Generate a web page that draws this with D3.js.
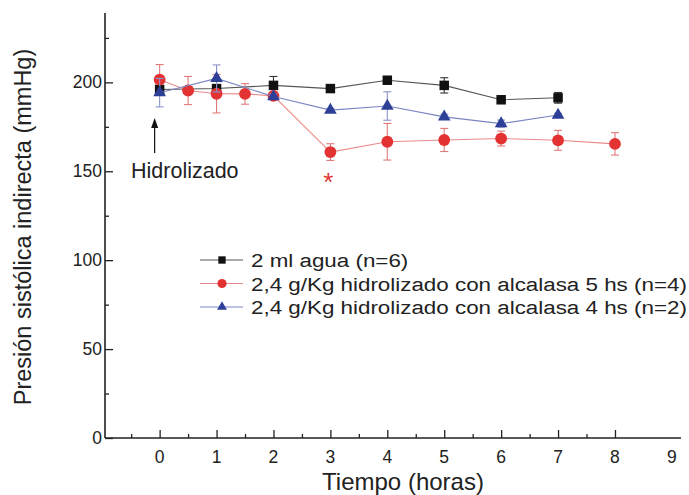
<html>
<script src='https://d3js.org/d3.v7.min.js'></script>
<style>
body {margin:0; background:#fff;}
text {font-family: "Liberation Sans", Arial, sans-serif; fill:#222;}
</style>
<body onload='init()'>
<svg width=689 height=495></svg>
<script>
// data
var aguaX = [0, 1, 2, 3, 4, 5, 6, 7];
var aguaY = [196, 196.5, 198.3, 196.5, 201.2, 198.3, 190.2, 191.3];
var aguaE = [2, 2, 5, 1.5, 2, 4.3, 2, 3];

var alc5X = [0, 0.5, 1, 1.5, 2, 3, 4, 5, 6, 7, 8];
var alc5Y = [201.5, 195.4, 193.6, 193.5, 192.4, 160.8, 166.6, 167.6, 168.4, 167.4, 165.4];
var alc5E = [8.5, 7.9, 10.8, 5.8, 2, 4.7, 10.3, 6.5, 4.2, 5.6, 6.3];

var alc4X = [0, 1, 2, 3, 4, 5, 6, 7];
var alc4Y = [194.2, 202.2, 192, 184.4, 186.7, 180.6, 176.8, 181.6];
var alc4E = [8, 7.6, 1.5, 1, 8, 1.5, 2, 1];

var xTicks = [0, 1, 2, 3, 4, 5, 6, 7, 8];
var xLabels = [0, 1, 2, 3, 4, 5, 6, 7, 8, 9];
var yTicks = [0, 50, 100, 150, 200];
var legendLabels = ["2 ml agua (n=6)", "2,4 g/Kg hidrolizado con alcalasa 5 hs (n=4)", "2,4 g/Kg hidrolizado con alcalasa 4 hs (n=2)"];

function init() {
	var svg = d3.select("svg");
	var x = d3.scaleLinear().domain([-0.96, 9.16]).range([105, 681]);
	var y = d3.scaleLinear().domain([0, 239]).range([438, 13]);

	// axes (ticks point inward)
	svg.append("g").attr("transform", "translate(0,438)")
		.call(d3.axisTop(x).tickValues(xTicks).tickSize(8).tickFormat(""))
		.call(function(g){ g.select(".domain").remove(); g.selectAll("line").attr("stroke", "#222").attr("stroke-width", 1.3); });
	svg.append("g").attr("transform", "translate(0,438)")
		.call(d3.axisTop(x).tickValues(d3.range(-0.5, 8, 1)).tickSize(4).tickFormat(""))
		.call(function(g){ g.select(".domain").remove(); g.selectAll("line").attr("stroke", "#222").attr("stroke-width", 1.3); });
	svg.append("line").attr("x1", 105).attr("x2", 681).attr("y1", 438).attr("y2", 438).attr("stroke", "#222").attr("stroke-width", 1.6);
	svg.selectAll(".xl").data(xLabels).enter().append("text")
		.attr("x", function(d){ return x(d); }).attr("y", 463).attr("text-anchor", "middle")
		.style("font-size", "17.5px").text(function(d){ return d; });

	svg.append("g").attr("transform", "translate(105,0)")
		.call(d3.axisRight(y).tickValues(yTicks).tickSize(8).tickFormat(""))
		.call(function(g){ g.select(".domain").remove(); g.selectAll("line").attr("stroke", "#222").attr("stroke-width", 1.3); });
	svg.append("g").attr("transform", "translate(105,0)")
		.call(d3.axisRight(y).tickValues([25, 75, 125, 175, 225]).tickSize(4).tickFormat(""))
		.call(function(g){ g.select(".domain").remove(); g.selectAll("line").attr("stroke", "#222").attr("stroke-width", 1.3); });
	svg.append("line").attr("x1", 105).attr("x2", 105).attr("y1", 13).attr("y2", 438).attr("stroke", "#222").attr("stroke-width", 1.6);
	svg.selectAll(".yl").data(yTicks).enter().append("text")
		.attr("x", 102).attr("y", function(d){ return y(d) + 6; }).attr("text-anchor", "end")
		.style("font-size", "17.5px").text(function(d){ return d; });

	svg.append("text").attr("transform", "translate(31,227) rotate(-90)").attr("text-anchor", "middle")
		.style("font-size", "23.5px").text("Presión sistólica indirecta (mmHg)");
	svg.append("text").attr("x", 403).attr("y", 490).attr("text-anchor", "middle")
		.style("font-size", "24px").text("Tiempo (horas)");

	var series = [
		{xs: aguaX, ys: aguaY, es: aguaE, line: "#555", err: "#333", fill: "#111", shape: d3.symbolSquare, size: 90},
		{xs: alc5X, ys: alc5Y, es: alc5E, line: "#e88a8a", err: "#e07a7a", fill: "#e33232", shape: d3.symbolCircle, size: 110},
		{xs: alc4X, ys: alc4Y, es: alc4E, line: "#7a86c4", err: "#8a94cc", fill: "#2e3f97", shape: d3.symbolTriangle, size: 70}
	];

	series.forEach(function(s) {
		var pts = s.xs.map(function(v, i){ return {x: v, y: s.ys[i], e: s.es[i]}; });
		var g = svg.append("g");
		g.append("path").datum(pts).attr("fill", "none").attr("stroke", s.line).attr("stroke-width", 1.1)
			.attr("d", d3.line().x(function(d){ return x(d.x); }).y(function(d){ return y(d.y); }));
		var eb = g.selectAll(".eb").data(pts).enter().append("g").attr("stroke", s.err).attr("stroke-width", 1.1);
		eb.append("line").attr("x1", function(d){ return x(d.x); }).attr("x2", function(d){ return x(d.x); })
			.attr("y1", function(d){ return y(d.y + d.e); }).attr("y2", function(d){ return y(d.y - d.e); });
		eb.append("line").attr("x1", function(d){ return x(d.x) - 4; }).attr("x2", function(d){ return x(d.x) + 4; })
			.attr("y1", function(d){ return y(d.y + d.e); }).attr("y2", function(d){ return y(d.y + d.e); });
		eb.append("line").attr("x1", function(d){ return x(d.x) - 4; }).attr("x2", function(d){ return x(d.x) + 4; })
			.attr("y1", function(d){ return y(d.y - d.e); }).attr("y2", function(d){ return y(d.y - d.e); });
		g.selectAll(".m").data(pts).enter().append("path")
			.attr("d", d3.symbol().type(s.shape).size(s.size))
			.attr("transform", function(d){ return "translate(" + x(d.x) + "," + y(d.y) + ")"; })
			.attr("fill", s.fill);
	});

	// annotation
	svg.append("line").attr("x1", x(0) - 5).attr("x2", x(0) - 5).attr("y1", 153).attr("y2", 126).attr("stroke", "#111").attr("stroke-width", 1.2);
	svg.append("path").attr("d", "M" + (x(0) - 5) + ",118 l-3.5,10 l7,0 z").attr("fill", "#111");
	svg.append("text").attr("x", 131).attr("y", 178).style("font-size", "21.5px").text("Hidrolizado");
	svg.append("text").attr("x", x(3) - 2).attr("y", 191).attr("text-anchor", "middle")
		.style("font-size", "26px").style("fill", "#e33232").text("*");

	// legend (text in the figure is wider than its height suggests)
	var longest = 0;
	var items = legendLabels.map(function(lab, i) {
		var s = series[i];
		var ly = 260 + i * 23.5;
		svg.append("line").attr("x1", 200).attr("x2", 243).attr("y1", ly).attr("y2", ly).attr("stroke", s.line).attr("stroke-width", 1.1);
		svg.append("path").attr("d", d3.symbol().type(s.shape).size(s.size * 0.6)).attr("transform", "translate(222," + ly + ")").attr("fill", s.fill);
		var t = svg.append("text").attr("x", 0).attr("y", 0).style("font-size", "19px").text(lab);
		longest = Math.max(longest, t.node().getComputedTextLength());
		return {t: t, ly: ly};
	});
	var sx = 436 / longest;
	items.forEach(function(it) {
		it.t.attr("transform", "translate(251," + (it.ly + 7) + ") scale(" + sx + ",1)");
	});
}
</script>
</body>
</html>
